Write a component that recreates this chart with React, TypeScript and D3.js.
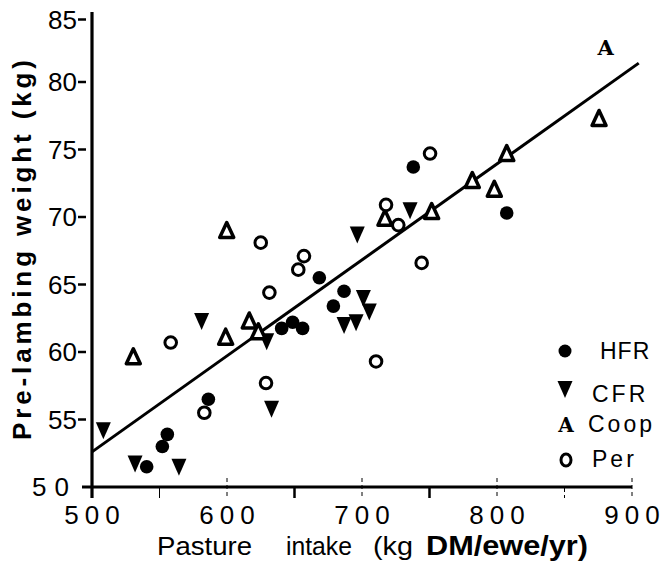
import React from "react";
import * as d3 from "d3";

const hfrX = [540.5, 552.1, 555.8, 586.2, 640.5, 648.6, 656, 668.4, 678.8, 686.7, 738, 807.2];
const hfrY = [51.5, 53.0, 53.9, 56.5, 61.75, 62.2, 61.75, 65.5, 63.4, 64.5, 73.7, 70.3];
const cfrX = [508.4, 531.9, 564.4, 581.2, 629.4, 633, 686.7, 695.6, 701, 705.4, 696.5, 735.6];
const cfrY = [54.2, 51.75, 51.5, 62.3, 60.8, 55.8, 62.0, 62.2, 64.0, 63.0, 68.7, 70.5];
const coopX = [530.6, 599, 599.8, 616.5, 623.2, 717, 751.6, 781.7, 798, 807.2, 875.6];
const coopY = [59.65, 61.1, 69.0, 62.3, 61.5, 69.9, 70.4, 72.7, 72.05, 74.7, 77.3];
const coopLetterX = [880.5];
const coopLetterY = [82.6];
const perX = [558.3, 583.2, 628.9, 625, 631.4, 652.8, 657, 710.4, 717.8, 726.9, 744.2, 750.4];
const perY = [60.7, 55.5, 57.7, 68.1, 64.4, 66.1, 67.1, 59.3, 70.9, 69.4, 66.6, 74.7];
const fitX = [500, 905];
const fitY = [52.6, 81.4];
const xTicks = [500, 550, 600, 650, 700, 750, 800, 850, 900];
const xTickLabels = [500, 600, 700, 800, 900];
const yTickLabels = [50, 55, 60, 65, 70, 75, 80, 85];
const legendItems = ["HFR", "CFR", "Coop", "Per"];

export default function App() {
  const x = d3.scaleLinear().domain([500, 900]).range([92, 632]);
  const y = d3.scaleLinear().domain([50, 80]).range([487, 82]);
  const line = d3.line<number>().x((_, i) => x(fitX[i])).y((_, i) => y(fitY[i]));
  const down = (cx: number, cy: number) => `M${cx - 7.5},${cy - 8}L${cx + 7.5},${cy - 8}L${cx},${cy + 9}Z`;
  const up = (cx: number, cy: number) => `M${cx},${cy - 8}L${cx + 7},${cy + 7}L${cx - 7},${cy + 7}Z`;
  const font = "'Liberation Sans', Arial, sans-serif";
  const slab = "'DejaVu Serif', 'Liberation Serif', serif";
  return (
    <svg width={669} height={564} style={{ position: "absolute", left: 0, top: 0, background: "#fff" }}>
      {/* axes */}
      <line x1={92} y1={12} x2={92} y2={498} stroke="#000" strokeWidth={3.2} />
      <line x1={82} y1={487} x2={632} y2={487} stroke="#000" strokeWidth={3.2} />
      {xTicks.slice(1).map((t) => (
        <line key={t} x1={x(t)} x2={x(t)} y1={t % 100 === 0 ? 478 : 488} y2={498} stroke="#000" strokeWidth={t % 100 === 50 && t !== 550 && t !== 850 ? 2.5 : 1} strokeDasharray={t % 100 === 0 || t === 850 ? "4,3" : undefined} />
      ))}
      {xTickLabels.map((t) => (
        <text key={t} x={x(t) + 3} y={524} textAnchor="middle" fontFamily={font} fontSize={26} letterSpacing={6}>{t}</text>
      ))}
      {yTickLabels.map((t) => (
        <g key={t}>
          {t !== 50 && <line x1={78} x2={86} y1={y(t) + (t === 85 ? 5 : 0)} y2={y(t) + (t === 85 ? 5 : 0)} stroke="#000" strokeWidth={2.5} />}
          <text x={77} y={y(t) + 9 + (t === 85 ? 5 : 0)} textAnchor="end" fontFamily={font} fontSize={26} letterSpacing={t === 50 ? 8 : 0}>{t}</text>
        </g>
      ))}
      {/* axis titles */}
      <text transform="translate(31,250) rotate(-90)" textAnchor="middle" fontFamily={font} fontWeight="bold" fontSize={26} textLength={380} lengthAdjust="spacing">Pre-lambing weight (kg)</text>
      <text x={157} y={555} fontFamily={font} fontSize={26} textLength={95} lengthAdjust="spacingAndGlyphs">Pasture</text>
      <text x={286} y={555} fontFamily={font} fontSize={26} textLength={66} lengthAdjust="spacingAndGlyphs">intake</text>
      <text x={373} y={555} fontFamily={font} fontSize={26} textLength={40} lengthAdjust="spacingAndGlyphs">(kg</text>
      <text x={426} y={555} fontFamily={font} fontWeight="bold" fontSize={27} textLength={162} lengthAdjust="spacingAndGlyphs">DM/ewe/yr)</text>
      {/* regression line */}
      <path d={line(fitX) || ""} fill="none" stroke="#000" strokeWidth={3} />
      {/* points */}
      {hfrX.map((v, i) => (
        <circle key={"h" + i} cx={x(v)} cy={y(hfrY[i])} r={6.8} fill="#000" />
      ))}
      {cfrX.map((v, i) => (
        <path key={"c" + i} d={down(x(v), y(cfrY[i]))} fill="#000" />
      ))}
      {coopX.map((v, i) => (
        <path key={"o" + i} d={up(x(v), y(coopY[i]))} fill="#fff" stroke="#000" strokeWidth={3.5} strokeLinejoin="round" />
      ))}
      {coopLetterX.map((v, i) => (
        <text key={"a" + i} x={x(v)} y={y(coopLetterY[i]) + 8} textAnchor="middle" fontFamily={slab} fontWeight="bold" fontSize={21}>A</text>
      ))}
      {perX.map((v, i) => (
        <circle key={"p" + i} cx={x(v)} cy={y(perY[i])} r={5.8} fill="#fff" stroke="#000" strokeWidth={3} />
      ))}
      {/* legend */}
      <circle cx={565} cy={351} r={6.5} fill="#000" />
      <path d={down(565, 389)} fill="#000" />
      <text x={566} y={432} textAnchor="middle" fontFamily={slab} fontWeight="bold" fontSize={20}>A</text>
      <ellipse cx={566} cy={460} rx={5} ry={6} fill="none" stroke="#000" strokeWidth={3} />
      <text x={600} y={359} fontFamily={font} fontSize={23} letterSpacing={1}>{legendItems[0]}</text>
      <text x={592} y={402} fontFamily={font} fontSize={23} letterSpacing={3}>{legendItems[1]}</text>
      <text x={588} y={432} fontFamily={font} fontSize={23} letterSpacing={3}>{legendItems[2]}</text>
      <text x={592} y={467} fontFamily={font} fontSize={23} letterSpacing={3}>{legendItems[3]}</text>
    </svg>
  );
}
